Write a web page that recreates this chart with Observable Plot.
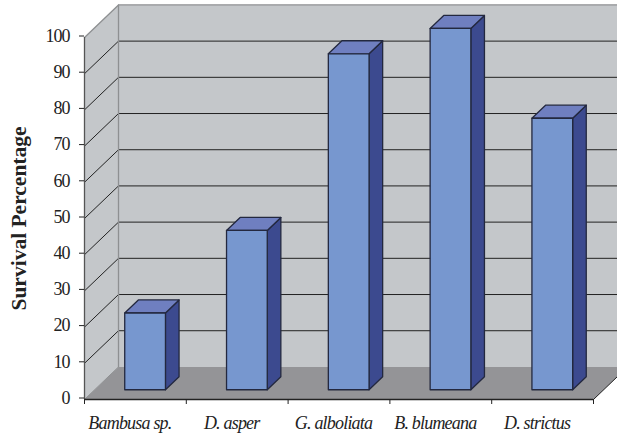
<!DOCTYPE html>
<html>
<head>
<meta charset="utf-8">
<script src="https://cdn.jsdelivr.net/npm/d3@7"></script>
<script src="https://cdn.jsdelivr.net/npm/@observablehq/plot@0.6"></script>
<style>
  html, body { margin: 0; padding: 0; background: #fff; }
  svg { display: block; }
  svg g[aria-label="y-axis tick label"] text { letter-spacing: -1px; }
  svg g[aria-label="x-axis tick label"] text { letter-spacing: -0.8px; }
</style>
</head>
<body>
<div id="chart"></div>
<script>
const species = ["Bambusa sp.", "D. asper", "G. alboliata", "B. blumeana", "D. strictus"];
const survival = [21.2, 44, 92.8, 99.8, 75];
const yTicks = [0, 10, 20, 30, 40, 50, 60, 70, 80, 90, 100];
const xBoundaries = [0, 1, 2, 3, 4, 5];

// Oblique projection: one unit of depth moves a point right and up, in data units.
const depthX = 0.334;
const depthY = 9.0;
const pt = (x, y, d = 0) => ({x: x + d * depthX, y: y + d * depthY});
const poly = (...corners) => [...corners, corners[0]];

// Bars stand part way into the floor and occupy a fraction of each category.
const barLeft = 0.295, barRight = 0.695, depthFront = 0.3, depthBack = 0.70;

const wallBack = poly(pt(0, 0, 1), pt(5, 0, 1), pt(5, 100, 1), pt(0, 100, 1));
const wallLeft = poly(pt(0, 0), pt(0, 0, 1), pt(0, 100, 1), pt(0, 100));
const floor = poly(pt(0, 0), pt(5, 0), pt(5, 0, 1), pt(0, 0, 1));

const grid = yTicks.filter(v => v > 0 && v < 100).flatMap(v => [
  {v, ...pt(0, v)}, {v, ...pt(0, v, 1)}, {v, ...pt(5, v, 1)}
]);

const faces = (build) => survival.flatMap((v, i) =>
  build(i + barLeft, i + barRight, v).map(p => ({bar: i, ...p})));

const frontFaces = faces((a, b, v) => poly(pt(a, 0, depthFront), pt(b, 0, depthFront), pt(b, v, depthFront), pt(a, v, depthFront)));
const sideFaces = faces((a, b, v) => poly(pt(b, 0, depthFront), pt(b, 0, depthBack), pt(b, v, depthBack), pt(b, v, depthFront)));
const topFaces = faces((a, b, v) => poly(pt(a, v, depthFront), pt(b, v, depthFront), pt(b, v, depthBack), pt(a, v, depthBack)));

const edge = "#23283f";
const serif = "'Liberation Serif', serif";

const chart = Plot.plot({
  width: 617,
  height: 434,
  marginLeft: 84,
  marginRight: 24,
  marginTop: 37,
  marginBottom: 35,
  style: {fontFamily: serif, background: "#fff", color: "#222"},
  x: {domain: [0, 5], axis: null},
  y: {domain: [0, 100], axis: null},
  marks: [
    Plot.line(wallBack, {x: "x", y: "y", fill: "#c4c7ca", stroke: "none"}),
    Plot.line(wallLeft, {x: "x", y: "y", fill: "#c4c7ca", stroke: "none"}),
    Plot.line(floor, {x: "x", y: "y", fill: "#949497", stroke: "none"}),
    Plot.line(grid, {x: "x", y: "y", z: "v", stroke: "#222", strokeWidth: 1, curve: "linear"}),
    // Wall outlines: back corner post, top edge and the slanted top of the left wall
    Plot.line([pt(0, 0, 1), pt(0, 100, 1), pt(5, 100, 1)], {x: "x", y: "y", stroke: "#8e9092", strokeWidth: 1.3}),
    Plot.line([pt(0, 100), pt(0, 100, 1)], {x: "x", y: "y", stroke: "#8e9092", strokeWidth: 1.3}),
    Plot.line([pt(0, 0), pt(0, 0, 1)], {x: "x", y: "y", stroke: "#8e9092", strokeWidth: 1}),
    Plot.line([pt(5, 0), pt(5, 0, 1)], {x: "x", y: "y", stroke: "#222", strokeWidth: 1}),
    Plot.line(sideFaces, {x: "x", y: "y", z: "bar", fill: "#3c4a8f", stroke: edge, strokeWidth: 1.3}),
    Plot.line(topFaces, {x: "x", y: "y", z: "bar", fill: "#6f7fc0", stroke: edge, strokeWidth: 1.3}),
    Plot.line(frontFaces, {x: "x", y: "y", z: "bar", fill: "#7797cf", stroke: edge, strokeWidth: 1.3}),
    // Axes
    Plot.ruleX([0], {y1: 0, y2: 100, stroke: "#555", strokeWidth: 1.3}),
    Plot.ruleY([0], {x1: 0, x2: 5, stroke: "#222", strokeWidth: 1.3}),
    Plot.axisY({
      ticks: yTicks, tickSize: 5, tickPadding: 10, dy: -1.5, fontSize: 18, label: null,
      stroke: "#222", tickFormat: d => d
    }),
    Plot.axisX({
      ticks: xBoundaries, tickSize: 5, tickFormat: () => "", label: null, stroke: "#222"
    }),
    Plot.axisX({
      ticks: species.map((_, i) => i + 0.5), tickSize: 0, tickPadding: 17, dx: -5.5, fontSize: 18,
      fontStyle: "italic", label: null, tickFormat: d => species[d - 0.5]
    }),
    Plot.text(["Survival Percentage"], {
      frameAnchor: "left", rotate: -90, dx: -65.5, fontSize: 21.5, fontWeight: "bold", fill: "#222",
      textAnchor: "middle"
    })
  ]
});
document.getElementById("chart").append(chart);
</script>
</body>
</html>
